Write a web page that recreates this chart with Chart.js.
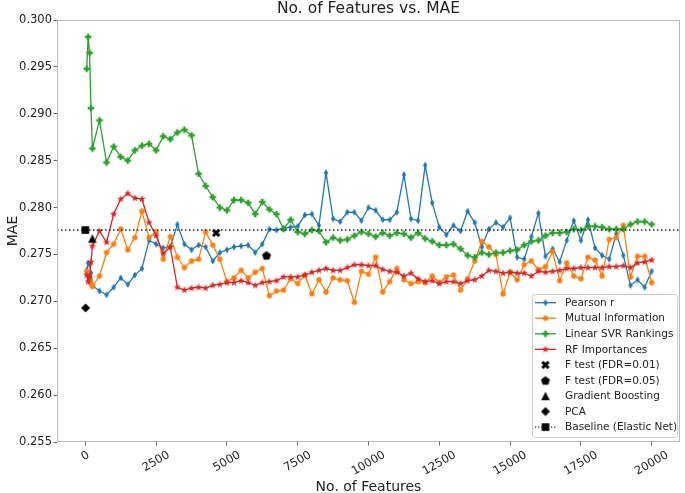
<!DOCTYPE html>
<html>
<head>
<meta charset="utf-8">
<script src="https://cdn.jsdelivr.net/npm/chart.js@4.4.1/dist/chart.umd.min.js"></script>
<style>
  html, body { margin: 0; padding: 0; background: #fff; }
  #wrap { width: 685px; height: 493px; }
</style>
</head>
<body>
<div id="wrap"><canvas id="maeChart" width="685" height="493"></canvas></div>
<script>
// ---- data ----
const featureCounts = [50, 100, 150, 200, 250, 500, 750, 1000, 1250, 1500, 1750, 2000, 2250, 2500, 2750, 3000,
  3250, 3500, 3750, 4000, 4250, 4500, 4750, 5000, 5250, 5500, 5750, 6000, 6250, 6500, 6750, 7000, 7250, 7500,
  7750, 8000, 8250, 8500, 8750, 9000, 9250, 9500, 9750, 10000, 10250, 10500, 10750, 11000, 11250, 11500, 11750,
  12000, 12250, 12500, 12750, 13000, 13250, 13500, 13750, 14000, 14250, 14500, 14750, 15000, 15250, 15500, 15750,
  16000, 16250, 16500, 16750, 17000, 17250, 17500, 17750, 18000, 18250, 18500, 18750, 19000, 19250, 19500, 19750, 20000];

const pearsonMae = [0.2733, 0.2741, 0.2739, 0.2730, 0.2717, 0.2711, 0.2707, 0.2715, 0.2725, 0.2718, 0.2728, 0.2735,
  0.2765, 0.2761, 0.2757, 0.2758, 0.2782, 0.2761, 0.2755, 0.2760, 0.2758, 0.2743, 0.2752, 0.2755, 0.2758, 0.2759,
  0.2760, 0.2752, 0.2761, 0.2777, 0.2776, 0.2778, 0.2779, 0.2780, 0.2792, 0.2793, 0.2781, 0.2837, 0.2788, 0.2785,
  0.2795, 0.2795, 0.2786, 0.2800, 0.2797, 0.2787, 0.2787, 0.2795, 0.2835, 0.2788, 0.2786, 0.2845, 0.2805, 0.2779,
  0.2771, 0.2781, 0.2775, 0.2796, 0.2784, 0.2758, 0.2777, 0.2784, 0.2779, 0.2789, 0.2747, 0.2745, 0.2769, 0.2794,
  0.2748, 0.2756, 0.2742, 0.2765, 0.2786, 0.2765, 0.2787, 0.2757, 0.2749, 0.2745, 0.2772, 0.2749, 0.2717, 0.2723,
  0.2715, 0.2732];

const mutualInfoMae = [0.2732, 0.2728, 0.2723, 0.2719, 0.2716, 0.2727, 0.2752, 0.2761, 0.2777, 0.2755, 0.2768, 0.2796,
  0.2768, 0.2774, 0.2745, 0.2769, 0.2747, 0.2736, 0.2743, 0.2745, 0.2774, 0.2760, 0.2745, 0.2721, 0.2725, 0.2733,
  0.2725, 0.2731, 0.2735, 0.2706, 0.2711, 0.2712, 0.2724, 0.2719, 0.2728, 0.2708, 0.2723, 0.2710, 0.2725, 0.2723,
  0.2722, 0.2699, 0.2732, 0.2729, 0.2747, 0.2710, 0.2721, 0.2735, 0.2723, 0.2719, 0.2721, 0.2720, 0.2727, 0.2720,
  0.2726, 0.2728, 0.2712, 0.2724, 0.2743, 0.2764, 0.2758, 0.2750, 0.2708, 0.2731, 0.2723, 0.2739, 0.2743, 0.2734,
  0.2737, 0.2753, 0.2722, 0.2741, 0.2727, 0.2724, 0.2747, 0.2744, 0.2727, 0.2766, 0.2768, 0.2781, 0.2726, 0.2748,
  0.2748, 0.2720];

const svrMae = [0.2948, 0.2982, 0.2965, 0.2906, 0.2863, 0.2893, 0.2848, 0.2865, 0.2854, 0.2850, 0.2861, 0.2866,
  0.2868, 0.2861, 0.2876, 0.2873, 0.2880, 0.2883, 0.2877, 0.2836, 0.2823, 0.2811, 0.2800, 0.2797, 0.2808, 0.2808,
  0.2805, 0.2793, 0.2806, 0.2798, 0.2793, 0.2777, 0.2787, 0.2774, 0.2772, 0.2776, 0.2775, 0.2763, 0.2768, 0.2765,
  0.2766, 0.2770, 0.2774, 0.2772, 0.2769, 0.2773, 0.2770, 0.2773, 0.2772, 0.2768, 0.2773, 0.2767, 0.2764, 0.2760,
  0.2760, 0.2761, 0.2756, 0.2749, 0.2747, 0.2752, 0.2750, 0.2752, 0.2752, 0.2754, 0.2755, 0.2760, 0.2764, 0.2765,
  0.2770, 0.2773, 0.2773, 0.2774, 0.2777, 0.2776, 0.2780, 0.2780, 0.2779, 0.2777, 0.2777, 0.2777, 0.2782, 0.2785,
  0.2785, 0.2782];

const rfMae = [0.2728, 0.2721, 0.2726, 0.2742, 0.2759, 0.2775, 0.2763, 0.2793, 0.2809, 0.2815, 0.2810, 0.2809,
  0.2784, 0.2770, 0.2751, 0.2758, 0.2715, 0.2712, 0.2714, 0.2715, 0.2714, 0.2717, 0.2718, 0.2720, 0.2720, 0.2722,
  0.2720, 0.2717, 0.2720, 0.2721, 0.2722, 0.2726, 0.2726, 0.2726, 0.2728, 0.2731, 0.2733, 0.2735, 0.2733, 0.2733,
  0.2736, 0.2739, 0.2739, 0.2738, 0.2738, 0.2734, 0.2732, 0.2731, 0.2727, 0.2730, 0.2724, 0.2721, 0.2722, 0.2719,
  0.2721, 0.2721, 0.2719, 0.2722, 0.2723, 0.2727, 0.2733, 0.2732, 0.2730, 0.2731, 0.2730, 0.2730, 0.2727, 0.2732,
  0.2731, 0.2732, 0.2733, 0.2735, 0.2735, 0.2736, 0.2736, 0.2736, 0.2736, 0.2737, 0.2737, 0.2738, 0.2736, 0.2741,
  0.2742, 0.2744];

// single-point methods
const methodNames = ['F test (FDR=0.01)', 'F test (FDR=0.05)', 'Gradient Boosting', 'PCA'];
const methodX = [4620, 6400, 250, 10];
const methodMae = [0.2773, 0.2749, 0.2767, 0.2693];

const baselineName = 'Baseline (Elastic Net)';
const baselineMae = 0.2776;

const xTicks = [0, 2500, 5000, 7500, 10000, 12500, 15000, 17500, 20000];
const yTicks = [0.255, 0.260, 0.265, 0.270, 0.275, 0.280, 0.285, 0.290, 0.295, 0.300];

const FONT = "'DejaVu Sans', 'Liberation Sans', sans-serif";

// ---- marker images (matplotlib style shapes) ----
function makeMarker(kind, color) {
  const n = 14;
  const c = document.createElement('canvas');
  c.width = n; c.height = n;
  const g = c.getContext('2d');
  g.translate(n / 2, n / 2);
  g.fillStyle = color;
  g.beginPath();
  const poly = pts => { pts.forEach((p, i) => i ? g.lineTo(p[0], p[1]) : g.moveTo(p[0], p[1])); };
  if (kind === 'thinDiamond') {
    poly([[0, -3.5], [2.2, 0], [0, 3.5], [-2.2, 0]]);
  } else if (kind === 'circle') {
    g.arc(0, 0, 2.7, 0, Math.PI * 2);
  } else if (kind === 'plus' || kind === 'x') {
    const a = kind === 'plus' ? 3.3 : 4.4, t = kind === 'plus' ? 1.2 : 1.5;
    if (kind === 'x') g.rotate(Math.PI / 4);
    poly([[-t, -a], [t, -a], [t, -t], [a, -t], [a, t], [t, t], [t, a], [-t, a], [-t, t], [-a, t], [-a, -t], [-t, -t]]);
  } else if (kind === 'star') {
    const pts = [];
    for (let i = 0; i < 10; i++) {
      const r = i % 2 ? 1.6 : 3.9, ang = -Math.PI / 2 + i * Math.PI / 5;
      pts.push([r * Math.cos(ang), r * Math.sin(ang)]);
    }
    poly(pts);
  } else if (kind === 'pentagon') {
    const pts = [];
    for (let i = 0; i < 5; i++) {
      const ang = -Math.PI / 2 + i * 2 * Math.PI / 5;
      pts.push([4.7 * Math.cos(ang), 4.7 * Math.sin(ang) + 0.4]);
    }
    poly(pts);
  } else if (kind === 'triangle') {
    poly([[0, -4.3], [4.3, 4.3], [-4.3, 4.3]]);
  } else if (kind === 'diamond') {
    poly([[0, -4.5], [4.5, 0], [0, 4.5], [-4.5, 0]]);
  } else if (kind === 'square') {
    g.rect(-3.8, -3.8, 7.6, 7.6);
  }
  g.closePath();
  g.fill();
  return c;
}

const colors = { blue: '#1f77b4', orange: '#ff7f0e', green: '#2ca02c', red: '#d62728', black: '#000000' };
const seriesMarkers = [
  makeMarker('thinDiamond', colors.blue),
  makeMarker('circle', colors.orange),
  makeMarker('plus', colors.green),
  makeMarker('star', colors.red)
];
const methodMarkers = [
  makeMarker('x', colors.black),
  makeMarker('pentagon', colors.black),
  makeMarker('triangle', colors.black),
  makeMarker('diamond', colors.black)
];
const baselineMarker = makeMarker('square', colors.black);

function lineSet(label, values, color, marker, order) {
  return {
    label: label,
    data: featureCounts.map((x, i) => ({ x: x, y: values[i] })),
    borderColor: color,
    backgroundColor: color,
    borderWidth: 1.3,
    pointStyle: marker,
    pointRadius: 3,
    pointHoverRadius: 3,
    fill: false,
    tension: 0,
    order: order
  };
}

const datasets = [
  lineSet('Pearson r', pearsonMae, colors.blue, seriesMarkers[0], 9),
  lineSet('Mutual Information', mutualInfoMae, colors.orange, seriesMarkers[1], 8),
  lineSet('Linear SVR Rankings', svrMae, colors.green, seriesMarkers[2], 7),
  lineSet('RF Importances', rfMae, colors.red, seriesMarkers[3], 6)
];
methodNames.forEach((name, i) => {
  datasets.push({
    label: name,
    data: [{ x: methodX[i], y: methodMae[i] }],
    showLine: false,
    pointStyle: methodMarkers[i],
    pointRadius: 4,
    pointHoverRadius: 4,
    backgroundColor: colors.black,
    borderColor: colors.black,
    order: 5 - i
  });
});
datasets.push({
  label: baselineName,
  data: [{ x: -1000, y: baselineMae }, { x: 0, y: baselineMae }, { x: 21000, y: baselineMae }],
  borderColor: '#222',
  borderWidth: 1.5,
  borderDash: [1.5, 2.5],
  pointStyle: baselineMarker,
  pointRadius: [0, 4, 0],
  pointHoverRadius: [0, 4, 0],
  fill: false,
  order: 0
});

// legend entries drawn by hand like matplotlib
const legendItems = [
  { label: 'Pearson r', color: colors.blue, marker: seriesMarkers[0], line: 'solid' },
  { label: 'Mutual Information', color: colors.orange, marker: seriesMarkers[1], line: 'solid' },
  { label: 'Linear SVR Rankings', color: colors.green, marker: seriesMarkers[2], line: 'solid' },
  { label: 'RF Importances', color: colors.red, marker: seriesMarkers[3], line: 'solid' },
  { label: methodNames[0], marker: methodMarkers[0] },
  { label: methodNames[1], marker: methodMarkers[1] },
  { label: methodNames[2], marker: methodMarkers[2] },
  { label: methodNames[3], marker: methodMarkers[3] },
  { label: baselineName, color: '#222', marker: baselineMarker, line: 'dotted' }
];

const decorPlugin = {
  id: 'decor',
  afterDraw(chart) {
    const ctx = chart.ctx;
    const a = chart.chartArea;
    const xs = chart.scales.x;
    ctx.save();

    // frame
    ctx.strokeStyle = '#b8b8b8';
    ctx.lineWidth = 1;
    ctx.strokeRect(a.left + 0.5, a.top + 0.5, a.right - a.left - 1, a.bottom - a.top - 1);

    // rotated x tick labels, centred on their ticks
    ctx.fillStyle = '#222';
    ctx.font = '11.5px ' + FONT;
    ctx.textAlign = 'center';
    ctx.textBaseline = 'middle';
    const ang = Math.PI / 6;
    xTicks.forEach(v => {
      const px = xs.getPixelForValue(v);
      const label = String(v);
      const w = ctx.measureText(label).width;
      const bh = w * Math.sin(ang) + 12 * Math.cos(ang);
      ctx.save();
      ctx.translate(px, a.bottom + 7 + bh / 2);
      ctx.rotate(-ang);
      ctx.fillText(label, 0, 0);
      ctx.restore();
    });

    // titles
    ctx.font = '15.5px ' + FONT;
    ctx.textBaseline = 'alphabetic';
    ctx.fillText('No. of Features vs. MAE', (a.left + a.right) / 2, 12.5);
    ctx.font = '14px ' + FONT;
    ctx.fillText('No. of Features', (a.left + a.right) / 2, 491);
    ctx.save();
    ctx.translate(13, (a.top + a.bottom) / 2);
    ctx.rotate(-Math.PI / 2);
    ctx.textBaseline = 'middle';
    ctx.fillText('MAE', 0, 0);
    ctx.restore();

    // legend box
    const bx = 532, by = 294, bw = 145, bhgt = 143;
    ctx.fillStyle = 'rgba(255,255,255,0.85)';
    ctx.strokeStyle = '#cccccc';
    ctx.beginPath();
    ctx.roundRect(bx + 0.5, by + 0.5, bw, bhgt, 3);
    ctx.fill();
    ctx.stroke();

    ctx.font = '10.5px ' + FONT;
    ctx.textAlign = 'left';
    ctx.textBaseline = 'middle';
    legendItems.forEach((it, i) => {
      const y = by + 8.7 + i * 15.55;
      if (it.line) {
        ctx.strokeStyle = it.color;
        ctx.lineWidth = it.line === 'dotted' ? 1.2 : 1.3;
        ctx.setLineDash(it.line === 'dotted' ? [1.2, 2] : []);
        ctx.beginPath();
        ctx.moveTo(535, y);
        ctx.lineTo(556, y);
        ctx.stroke();
        ctx.setLineDash([]);
      }
      ctx.drawImage(it.marker, 545.5 - it.marker.width / 2, y - it.marker.height / 2);
      ctx.fillStyle = '#222';
      ctx.fillText(it.label, 565, y + 0.5);
    });

    ctx.restore();
  }
};

new Chart(document.getElementById('maeChart'), {
  type: 'line',
  data: { datasets: datasets },
  options: {
    responsive: false,
    animation: false,
    layout: { padding: { top: 20, right: 2, left: 0, bottom: 0 } },
    plugins: { legend: { display: false }, tooltip: { enabled: false }, title: { display: false } },
    scales: {
      x: {
        type: 'linear',
        min: -1000,
        max: 21000,
        afterBuildTicks: s => { s.ticks = xTicks.map(v => ({ value: v })); },
        afterFit: s => { s.height = 51; },
        ticks: { display: false },
        grid: { drawOnChartArea: false, drawTicks: true, tickLength: 3.5, tickColor: '#666' },
        border: { display: false }
      },
      y: {
        type: 'linear',
        min: 0.255,
        max: 0.300,
        afterBuildTicks: s => { s.ticks = yTicks.map(v => ({ value: v })); },
        afterFit: s => { s.width = 57; },
        ticks: {
          callback: v => v.toFixed(3),
          font: { family: FONT, size: 11.5 },
          color: '#222',
          padding: 1.5
        },
        grid: { drawOnChartArea: false, drawTicks: true, tickLength: 3.5, tickColor: '#666' },
        border: { display: false }
      }
    }
  },
  plugins: [decorPlugin]
});
</script>
</body>
</html>
